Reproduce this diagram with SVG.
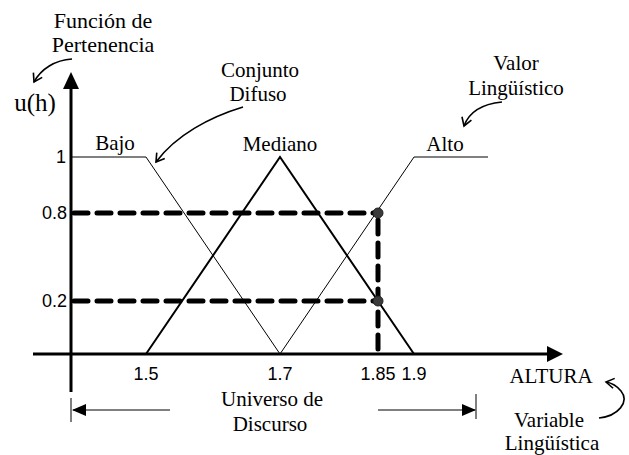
<svg xmlns="http://www.w3.org/2000/svg" width="629" height="455" viewBox="0 0 629 455">
<style>
.serif{font-family:'Liberation Serif',serif;font-size:21px;fill:#000}
.sans{font-family:'Liberation Sans',sans-serif;font-size:18px;fill:#000}
.axis{stroke:#000;stroke-width:3;fill:none}
.thin{stroke:#000;stroke-width:1;fill:none}
.med{stroke:#000;stroke-width:2;fill:none}
.dash{stroke:#000;stroke-width:5;stroke-dasharray:14 9;stroke-linecap:round;fill:none}
.curve{stroke:#000;stroke-width:1.6;fill:none}
.dot{fill:#3a3a3a;stroke:#222;stroke-width:1}
</style>
<defs>
<marker id="vhead" viewBox="0 0 12 12" refX="10" refY="6" markerWidth="12" markerHeight="12" markerUnits="userSpaceOnUse" orient="auto">
<path d="M2,1 L10,6 L2,11" fill="none" stroke="#000" stroke-width="1.6"/>
</marker>
<marker id="fhead" viewBox="0 0 14 12" refX="13" refY="6" markerWidth="14" markerHeight="12" markerUnits="userSpaceOnUse" orient="auto">
<path d="M0,0 L14,6 L0,12 Z" fill="#000"/>
</marker>
</defs>
<rect width="629" height="455" fill="#fff"/>
<g id="axes">
<line class="axis" x1="71" y1="392" x2="71" y2="86"/>
<path d="M71,72 L63,89 L79,89 Z" fill="#000"/>
<line class="axis" x1="33" y1="354" x2="550" y2="354"/>
<path d="M563,354 L547,346 L547,362 Z" fill="#000"/>
</g>
<g id="bajo">
<polyline class="thin" points="71,157 146,157 280,354"/>
<text class="serif" x="115" y="150" text-anchor="middle">Bajo</text>
</g>
<g id="mediano">
<polyline class="med" points="146,354 280,157 414,354"/>
<text class="serif" x="280" y="151" text-anchor="middle">Mediano</text>
</g>
<g id="alto">
<polyline class="thin" points="280,354 414,157 488,157"/>
<text class="serif" x="445" y="151" text-anchor="middle">Alto</text>
</g>
<g id="levels">
<line class="dash" x1="74" y1="213" x2="374" y2="213"/>
<line class="dash" x1="74" y1="301" x2="374" y2="301"/>
<line class="dash" x1="378" y1="220" x2="378" y2="352"/>
<circle class="dot" cx="378" cy="213" r="5"/>
<circle class="dot" cx="378" cy="301" r="5"/>
</g>
<g id="ylabels">
<text class="sans" x="66" y="163" text-anchor="end">1</text>
<text class="sans" x="67" y="219" text-anchor="end">0.8</text>
<text class="sans" x="67" y="307" text-anchor="end">0.2</text>
</g>
<g id="xlabels">
<text class="sans" x="146" y="380" text-anchor="middle">1.5</text>
<text class="sans" x="280" y="380" text-anchor="middle">1.7</text>
<text class="sans" x="378" y="380" text-anchor="middle">1.85</text>
<text class="sans" x="414" y="380" text-anchor="middle">1.9</text>
</g>
<g id="funcion">
<text class="serif" x="103" y="28" text-anchor="middle" style="font-size:22px">Función de</text>
<text class="serif" x="103" y="52" text-anchor="middle" style="font-size:22px">Pertenencia</text>
<text class="serif" x="35" y="111" text-anchor="middle" style="font-size:25px">u(h)</text>
</g>
<g id="conjunto">
<text class="serif" x="260" y="77" text-anchor="middle">Conjunto</text>
<text class="serif" x="258" y="101" text-anchor="middle">Difuso</text>
</g>
<g id="valor">
<text class="serif" x="516" y="70" text-anchor="middle">Valor</text>
<text class="serif" x="516" y="95" text-anchor="middle">Lingüístico</text>
</g>
<g id="altura">
<text class="serif" x="551" y="383" text-anchor="middle">ALTURA</text>
</g>
<g id="variable">
<text class="serif" x="549" y="427" text-anchor="middle">Variable</text>
<text class="serif" x="552" y="450" text-anchor="middle">Lingüística</text>
</g>
<g id="universo">
<text class="serif" x="272" y="406" text-anchor="middle">Universo de</text>
<text class="serif" x="270" y="431" text-anchor="middle">Discurso</text>
<line class="thin" x1="71" y1="398" x2="71" y2="422"/>
<line class="thin" x1="476" y1="394" x2="476" y2="419"/>
</g>
<g id="connectors">
<path class="curve" d="M72,59 C55,60 41,69 34,82" marker-end="url(#vhead)"/>
<path class="curve" d="M243,107 C210,117 176,135 156,162" marker-end="url(#vhead)"/>
<path class="curve" d="M502,102 C482,104 469,112 464,126" marker-end="url(#vhead)"/>
<path class="curve" d="M599,418 C618,416 630,402 621,391 C617,386 612,383 606,382" marker-end="url(#vhead)"/>
<line class="thin" x1="170" y1="410" x2="73" y2="410" marker-end="url(#fhead)"/>
<line class="thin" x1="378" y1="410" x2="475" y2="410" marker-end="url(#fhead)"/>
</g>
</svg>
